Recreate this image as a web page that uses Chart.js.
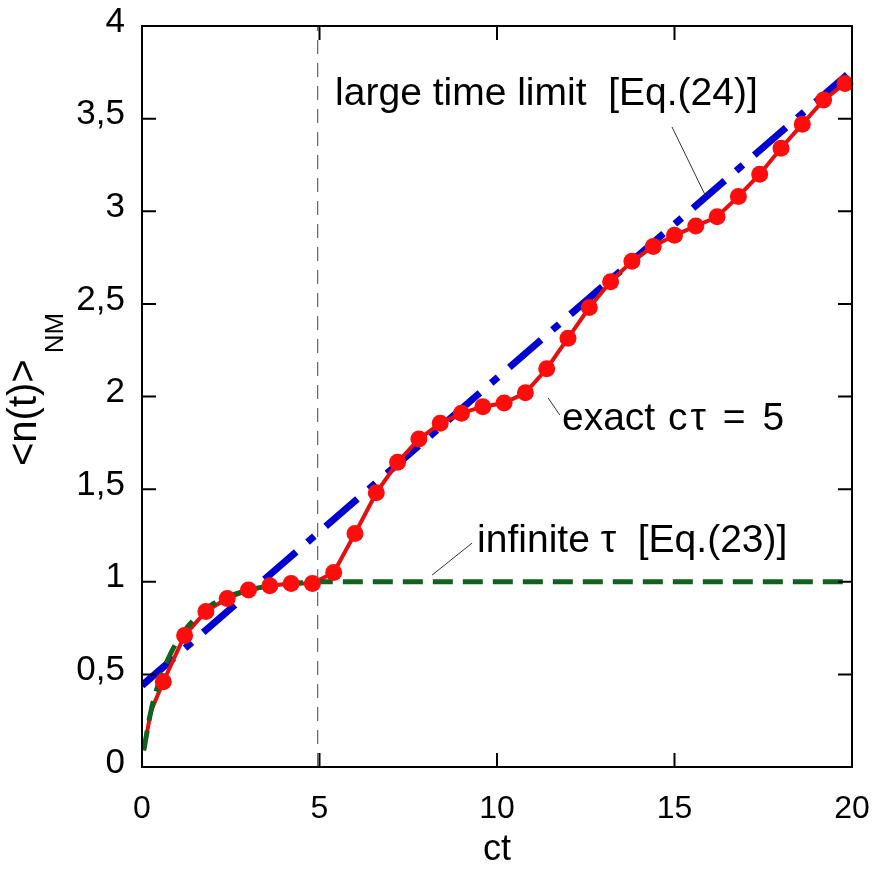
<!DOCTYPE html>
<html><head><meta charset="utf-8">
<script src="https://cdn.jsdelivr.net/npm/chart.js@4/dist/chart.umd.min.js"></script>
<style>html,body{margin:0;padding:0;background:#fff}#wrap{width:878px;height:873px}</style>
</head><body><div id="wrap"><canvas id="c" width="878" height="873"></canvas></div>
<script>
// ---- data ----
const exactCt = [0.6,1.2,1.8,2.4,3.0,3.6,4.2,4.8,5.4,6.0,6.6,7.2,7.8,8.4,9.0,9.6,10.2,10.8,11.4,12.0,12.6,13.2,13.8,14.4,15.0,15.6,16.2,16.8,17.4,18.0,18.6,19.2,19.8];
const exactN  = [0.46,0.71,0.84,0.91,0.955,0.978,0.99,0.99,1.05,1.26,1.48,1.645,1.77,1.855,1.91,1.945,1.965,2.02,2.15,2.315,2.48,2.62,2.73,2.81,2.87,2.92,2.97,3.08,3.2,3.34,3.47,3.6,3.69];
const exactStartCt = [0.05,0.25];
const exactStartN  = [0.09,0.3];
const infCt = [0.05,0.25,0.5,0.8,1.0,1.3,1.6,2.0,2.5,3.0,3.5,4.0,4.5,5.0,20];
const infN  = [0.09,0.3,0.47,0.61,0.68,0.76,0.82,0.88,0.925,0.955,0.975,0.987,0.995,1.0,1.0];
const largeCt = [0,20];
const largeN  = [0.44,3.76];
const xTicks = [0,5,10,15,20];
const yTicks = [0,0.5,1,1.5,2,2.5,3,3.5,4];
const tauCt = 4.95;

const pts = (xs, ys) => xs.map((x,i)=>({x, y: ys[i]}));
const FONT = "'Liberation Sans', Arial, Helvetica, sans-serif";

const frame = {
  id: 'frame',
  beforeDatasetsDraw(chart) {
    const {ctx, chartArea: a, scales: {x}} = chart;
    ctx.save();
    ctx.strokeStyle = '#444'; ctx.lineWidth = 1; ctx.setLineDash([14,9]);
    const px = x.getPixelForValue(tauCt);
    ctx.beginPath(); ctx.moveTo(px, a.bottom); ctx.lineTo(px, a.top); ctx.stroke();
    ctx.restore();
  },
  afterDatasetsDraw(chart) {
    const {ctx, chartArea: a, scales: {x, y}} = chart;
    ctx.save();
    ctx.strokeStyle = '#000'; ctx.lineWidth = 2; ctx.setLineDash([]);
    ctx.strokeRect(a.left, a.top, a.right - a.left, a.bottom - a.top);
    const tl = 14;
    ctx.beginPath();
    xTicks.forEach(v => { const p = x.getPixelForValue(v);
      ctx.moveTo(p, a.bottom); ctx.lineTo(p, a.bottom - tl);
      ctx.moveTo(p, a.top); ctx.lineTo(p, a.top + tl); });
    yTicks.forEach(v => { const p = y.getPixelForValue(v);
      ctx.moveTo(a.left, p); ctx.lineTo(a.left + tl, p);
      ctx.moveTo(a.right, p); ctx.lineTo(a.right - tl, p); });
    ctx.stroke();

    // annotations (positions in data units)
    const P = (cx, cy) => [x.getPixelForValue(cx), y.getPixelForValue(cy)];
    ctx.fillStyle = '#000';
    ctx.font = '39px ' + FONT;
    ctx.textBaseline = 'alphabetic'; ctx.textAlign = 'left';
    let p;
    p = P(5.44, 3.574); ctx.fillText('large time limit  [Eq.(24)]', p[0], p[1]);
    p = P(11.83, 1.819); ctx.fillText('exact', p[0], p[1]);
    p = P(9.44, 1.161); ctx.fillText('infinite \u03c4  [Eq.(23)]', p[0], p[1]);
    ctx.save();
    ctx.letterSpacing = '3px';
    p = P(14.82, 1.819); ctx.fillText('c\u03c4 = 5', p[0], p[1]);
    ctx.restore();
    ctx.strokeStyle = '#333'; ctx.lineWidth = 1;
    const seg = (a1, b1, a2, b2) => { const s = P(a1,b1), e = P(a2,b2);
      ctx.beginPath(); ctx.moveTo(s[0], s[1]); ctx.lineTo(e[0], e[1]); ctx.stroke(); };
    seg(14.93, 3.455, 15.89, 3.077);
    seg(11.44, 1.992, 11.77, 1.9);
    seg(9.3, 1.209, 8.17, 1.036);

    // y-axis title with subscript
    ctx.save();
    ctx.translate(36, 466);
    ctx.rotate(-Math.PI/2);
    ctx.font = '40px ' + FONT;
    ctx.fillText('<n(t)>', 0, 0);
    const w = ctx.measureText('<n(t)>').width;
    ctx.font = '26px ' + FONT;
    ctx.fillText('NM', w + 6, 27);
    ctx.restore();
    ctx.restore();
  }
};

new Chart(document.getElementById('c'), {
  type: 'line',
  data: {
    datasets: [
      { label: 'exact points', data: pts(exactCt, exactN), showLine: false,
        pointRadius: 8.5, pointBackgroundColor: '#ff0d0d', pointBorderWidth: 0, borderColor: '#ff0d0d', clip: false },
      { label: 'infinite tau', data: pts(infCt, infN), borderColor: '#10621e', borderWidth: 5,
        borderDash: [20,10], pointRadius: 0, tension: 0.3, cubicInterpolationMode: 'monotone' },
      { label: 'exact line', data: pts(exactStartCt.concat(exactCt), exactStartN.concat(exactN)),
        borderColor: '#e41010', borderWidth: 4, pointRadius: 0 },
      { label: 'large time limit', data: pts(largeCt, largeN), borderColor: '#0000d0', borderWidth: 7,
        borderDash: [42,15,9,15], pointRadius: 0 }
    ]
  },
  options: {
    responsive: false, animation: false,
    layout: { padding: { top: 26, right: 26, left: 0, bottom: 0 } },
    plugins: { legend: { display: false }, tooltip: { enabled: false } },
    scales: {
      x: { type: 'linear', min: 0, max: 20,
        afterFit: s => { s.height = 106; s.paddingLeft = 0; s.paddingRight = 0; },
        afterBuildTicks: s => { s.ticks = xTicks.map(v => ({value: v})); },
        grid: { display: false, drawTicks: false }, border: { display: false },
        ticks: { color: '#000', font: { family: FONT, size: 32 }, padding: 23, maxRotation: 0 },
        title: { display: true, text: 'ct', color: '#000', font: { family: FONT, size: 36, lineHeight: 1.2 }, padding: { top: 0, bottom: 1 } } },
      y: { type: 'linear', min: 0, max: 4,
        afterFit: s => { s.width = 142; s.paddingTop = 0; s.paddingBottom = 0; },
        afterBuildTicks: s => { s.ticks = yTicks.map(v => ({value: v})); },
        grid: { display: false, drawTicks: false }, border: { display: false },
        ticks: { color: '#000', font: { family: FONT, size: 35 }, padding: 17, labelOffset: -4,
          callback: v => String(v).replace('.', ',') } }
    }
  },
  plugins: [frame]
});
</script></body></html>
